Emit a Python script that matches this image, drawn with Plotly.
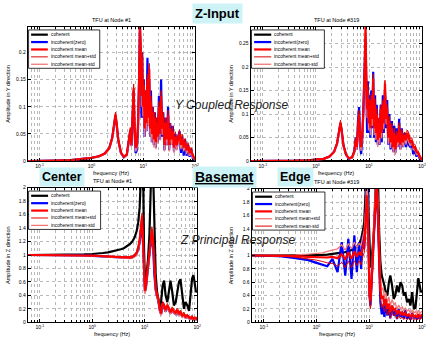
import plotly.graph_objects as go

# ---------------- data ----------------
series_names = ["coherent", "incoherent(zero)", "incoherent mean",
                "incoherent mean+std", "incoherent mean-std"]

# Top row (Y coupled response), frequency in Hz
f_top = [0.06, 0.1, 0.2, 0.4, 0.7, 1.0, 1.4, 1.8, 2.2, 2.5,
         2.75, 2.9, 3.05, 3.3, 3.7, 4.2, 4.8, 5.3, 5.6, 5.9,
         6.2, 6.5, 6.8, 7.1, 7.5, 7.9, 8.3, 8.6, 8.9, 9.2,
         9.5, 9.8, 10.2, 10.6, 11.0, 11.5, 12.0, 12.5, 13.0, 13.5,
         14.0, 14.6, 15.2, 15.9, 16.6, 17.4, 18.2, 19.0, 20.0, 21.0,
         22.0, 23.0, 24.2, 25.5, 27.0, 28.5, 30.0, 31.5, 33.0, 35.0,
         37.0, 39.0, 41.5, 44.0, 47.0, 50.0, 53.0, 56.0, 60.0, 64.0,
         68.0, 73.0, 78.0, 84.0, 90.0, 95.0, 100.0]
f_coh_top = [0.06, 100.0]
tl_coherent = [0.0, 0.0]
tl_zero = [0.000, 0.000, 0.001, 0.002, 0.004, 0.006, 0.009, 0.014, 0.024, 0.042,
           0.068, 0.084, 0.068, 0.037, 0.015, 0.007, 0.012, 0.040, 0.056, 0.028,
           0.085, 0.130, 0.050, 0.015, 0.020, 0.060, 0.160, 0.250, 0.180, 0.080,
           0.200, 0.080, 0.150, 0.045, 0.130, 0.055, 0.190, 0.065, 0.150, 0.045,
           0.130, 0.035, 0.100, 0.030, 0.090, 0.025, 0.080, 0.035, 0.120, 0.040,
           0.150, 0.045, 0.090, 0.020, 0.080, 0.030, 0.100, 0.020, 0.070, 0.030,
           0.065, 0.018, 0.050, 0.022, 0.045, 0.055, 0.015, 0.045, 0.010, 0.040,
           0.010, 0.030, 0.008, 0.022, 0.005, 0.004, 0.002]
tl_mean = [0.000, 0.000, 0.001, 0.002, 0.004, 0.006, 0.009, 0.014, 0.024, 0.042,
           0.070, 0.086, 0.070, 0.038, 0.016, 0.008, 0.012, 0.040, 0.058, 0.030,
           0.080, 0.135, 0.060, 0.025, 0.030, 0.070, 0.150, 0.250, 0.210, 0.120,
           0.190, 0.100, 0.140, 0.060, 0.120, 0.070, 0.150, 0.080, 0.170, 0.060,
           0.110, 0.050, 0.090, 0.040, 0.080, 0.035, 0.070, 0.045, 0.100, 0.050,
           0.120, 0.060, 0.080, 0.030, 0.070, 0.040, 0.085, 0.030, 0.060, 0.040,
           0.055, 0.025, 0.045, 0.030, 0.040, 0.050, 0.030, 0.042, 0.025, 0.035,
           0.020, 0.028, 0.015, 0.020, 0.010, 0.006, 0.003]
tl_plus = [0.000, 0.000, 0.001, 0.002, 0.004, 0.006, 0.010, 0.015, 0.026, 0.045,
           0.074, 0.090, 0.074, 0.041, 0.018, 0.009, 0.014, 0.044, 0.062, 0.034,
           0.088, 0.142, 0.068, 0.032, 0.038, 0.080, 0.165, 0.255, 0.225, 0.140,
           0.200, 0.118, 0.150, 0.075, 0.130, 0.085, 0.160, 0.095, 0.180, 0.075,
           0.120, 0.065, 0.100, 0.055, 0.090, 0.048, 0.080, 0.058, 0.110, 0.062,
           0.130, 0.072, 0.090, 0.042, 0.080, 0.052, 0.094, 0.042, 0.070, 0.050,
           0.064, 0.035, 0.054, 0.040, 0.048, 0.058, 0.038, 0.050, 0.032, 0.042,
           0.027, 0.034, 0.020, 0.025, 0.014, 0.008, 0.004]
tl_minus = [0.000, 0.000, 0.001, 0.002, 0.004, 0.006, 0.008, 0.013, 0.022, 0.039,
            0.066, 0.082, 0.066, 0.035, 0.014, 0.007, 0.010, 0.036, 0.054, 0.026,
            0.072, 0.128, 0.052, 0.018, 0.022, 0.060, 0.135, 0.245, 0.195, 0.100,
            0.180, 0.082, 0.130, 0.045, 0.110, 0.055, 0.140, 0.065, 0.160, 0.045,
            0.100, 0.035, 0.080, 0.025, 0.070, 0.022, 0.060, 0.032, 0.090, 0.038,
            0.110, 0.048, 0.070, 0.018, 0.060, 0.028, 0.076, 0.018, 0.050, 0.030,
            0.046, 0.015, 0.036, 0.020, 0.032, 0.042, 0.022, 0.034, 0.018, 0.028,
            0.013, 0.022, 0.010, 0.015, 0.006, 0.004, 0.002]

tr_coherent = [0.0, 0.0]
tr_zero = [0.000, 0.000, 0.000, 0.001, 0.002, 0.003, 0.005, 0.010, 0.020, 0.037,
           0.064, 0.081, 0.065, 0.033, 0.013, 0.005, 0.008, 0.022, 0.050, 0.025,
           0.085, 0.115, 0.035, 0.015, 0.050, 0.120, 0.220, 0.260, 0.160, 0.060,
           0.170, 0.060, 0.140, 0.050, 0.150, 0.070, 0.190, 0.050, 0.140, 0.040,
           0.120, 0.035, 0.090, 0.035, 0.120, 0.040, 0.140, 0.060, 0.150, 0.070,
           0.130, 0.035, 0.100, 0.025, 0.085, 0.020, 0.075, 0.018, 0.070, 0.030,
           0.090, 0.025, 0.070, 0.030, 0.060, 0.030, 0.055, 0.035, 0.030, 0.040,
           0.015, 0.025, 0.010, 0.015, 0.005, 0.003, 0.002]
tr_mean = [0.000, 0.000, 0.000, 0.001, 0.002, 0.003, 0.005, 0.010, 0.020, 0.038,
           0.065, 0.082, 0.066, 0.034, 0.014, 0.006, 0.008, 0.020, 0.045, 0.030,
           0.075, 0.100, 0.045, 0.030, 0.060, 0.110, 0.200, 0.285, 0.180, 0.110,
           0.150, 0.080, 0.120, 0.070, 0.130, 0.090, 0.175, 0.070, 0.120, 0.060,
           0.100, 0.045, 0.080, 0.050, 0.110, 0.060, 0.120, 0.080, 0.165, 0.090,
           0.110, 0.050, 0.085, 0.040, 0.070, 0.030, 0.060, 0.025, 0.055, 0.040,
           0.075, 0.035, 0.060, 0.040, 0.055, 0.045, 0.060, 0.050, 0.040, 0.045,
           0.030, 0.030, 0.020, 0.018, 0.010, 0.006, 0.003]
tr_plus = [0.000, 0.000, 0.000, 0.001, 0.002, 0.004, 0.006, 0.011, 0.022, 0.041,
           0.070, 0.087, 0.071, 0.038, 0.016, 0.007, 0.010, 0.024, 0.050, 0.036,
           0.082, 0.108, 0.055, 0.038, 0.068, 0.120, 0.215, 0.285, 0.200, 0.128,
           0.162, 0.095, 0.132, 0.085, 0.140, 0.105, 0.185, 0.085, 0.132, 0.075,
           0.112, 0.060, 0.092, 0.064, 0.120, 0.072, 0.130, 0.092, 0.172, 0.102,
           0.120, 0.064, 0.095, 0.052, 0.080, 0.042, 0.070, 0.036, 0.064, 0.050,
           0.082, 0.046, 0.068, 0.050, 0.062, 0.055, 0.066, 0.060, 0.048, 0.050,
           0.036, 0.036, 0.026, 0.022, 0.013, 0.008, 0.004]
tr_minus = [0.000, 0.000, 0.000, 0.001, 0.002, 0.003, 0.004, 0.009, 0.018, 0.035,
            0.060, 0.077, 0.061, 0.030, 0.012, 0.005, 0.006, 0.016, 0.040, 0.024,
            0.068, 0.092, 0.035, 0.022, 0.052, 0.100, 0.185, 0.275, 0.160, 0.092,
            0.138, 0.065, 0.108, 0.055, 0.120, 0.075, 0.165, 0.055, 0.108, 0.045,
            0.088, 0.030, 0.068, 0.036, 0.100, 0.048, 0.110, 0.068, 0.158, 0.078,
            0.100, 0.036, 0.075, 0.028, 0.060, 0.018, 0.050, 0.014, 0.046, 0.030,
            0.068, 0.024, 0.052, 0.030, 0.048, 0.035, 0.054, 0.040, 0.032, 0.040,
            0.024, 0.024, 0.014, 0.014, 0.007, 0.004, 0.002]

# Bottom row (Z principal response)
f_bot = [0.06, 0.1, 0.2, 0.4, 0.7, 1.0, 1.3, 1.6, 2.0, 2.5,
         3.0, 3.5, 4.0, 4.6, 5.2, 5.8, 6.4, 7.0, 7.5, 8.0,
         8.5, 8.9, 9.3, 9.7, 10.1, 10.5, 11.0, 11.6, 12.3, 13.0,
         13.7, 14.5, 15.3, 16.2, 17.2, 18.2, 19.3, 20.5, 22.0, 23.5,
         25.0, 27.0, 29.0, 31.0, 33.5, 36.0, 39.0, 42.0, 45.0, 48.0,
         52.0, 56.0, 60.0, 65.0, 70.0, 75.0, 80.0, 85.0, 90.0, 95.0,
         100.0]
bl_coherent = [1.000, 1.000, 1.001, 1.003, 1.008, 1.015, 1.02, 1.03, 1.04, 1.055,
               1.07, 1.085, 1.10, 1.13, 1.16, 1.20, 1.26, 1.35, 1.48, 1.70,
               2.10, 2.60, 2.40, 1.10, 0.62, 0.60, 0.75, 0.95, 1.30, 1.90,
               2.60, 2.20, 1.20, 0.70, 0.45, 0.30, 0.22, 0.30, 0.55, 0.62,
               0.40, 0.30, 0.45, 0.62, 0.45, 0.25, 0.30, 0.45, 0.60, 0.64,
               0.40, 0.20, 0.30, 0.25, 0.17, 0.40, 0.65, 0.70, 0.55, 0.45,
               0.47]
bl_zero = [1.000, 1.000, 1.000, 0.997, 0.993, 0.987, 0.982, 0.976, 0.97, 0.965,
           0.958, 0.955, 0.953, 0.953, 0.956, 0.965, 0.985, 1.02, 1.08, 1.18,
           1.38, 1.50, 1.15, 0.58, 0.46, 0.50, 0.64, 0.80, 0.98, 1.18,
           1.22, 1.10, 0.70, 0.48, 0.38, 0.32, 0.18, 0.12, 0.25, 0.22,
           0.16, 0.22, 0.18, 0.13, 0.18, 0.14, 0.12, 0.16, 0.10, 0.13,
           0.09, 0.10, 0.07, 0.08, 0.06, 0.05, 0.07, 0.04, 0.05, 0.04,
           0.04]
bl_mean = [1.000, 1.000, 1.000, 0.998, 0.995, 0.99, 0.985, 0.98, 0.975, 0.97,
           0.965, 0.962, 0.96, 0.96, 0.962, 0.97, 0.99, 1.03, 1.10, 1.22,
           1.42, 1.58, 1.20, 0.60, 0.47, 0.52, 0.68, 0.85, 1.05, 1.28,
           1.38, 1.20, 0.75, 0.50, 0.40, 0.35, 0.20, 0.13, 0.28, 0.25,
           0.18, 0.25, 0.20, 0.15, 0.20, 0.16, 0.14, 0.18, 0.12, 0.15,
           0.10, 0.12, 0.08, 0.10, 0.07, 0.06, 0.08, 0.05, 0.06, 0.05,
           0.05]
bl_plus = [1.000, 1.000, 1.001, 1.000, 0.998, 0.994, 0.99, 0.986, 0.982, 0.978,
           0.974, 0.972, 0.972, 0.974, 0.978, 0.988, 1.01, 1.05, 1.13, 1.26,
           1.48, 1.62, 1.28, 0.66, 0.52, 0.57, 0.73, 0.90, 1.10, 1.33,
           1.42, 1.26, 0.80, 0.55, 0.44, 0.39, 0.24, 0.16, 0.31, 0.28,
           0.21, 0.28, 0.23, 0.18, 0.23, 0.19, 0.17, 0.21, 0.15, 0.18,
           0.13, 0.15, 0.10, 0.12, 0.09, 0.08, 0.10, 0.07, 0.08, 0.07,
           0.07]
bl_minus = [1.000, 1.000, 0.999, 0.996, 0.992, 0.986, 0.98, 0.974, 0.968, 0.962,
            0.956, 0.952, 0.948, 0.946, 0.946, 0.952, 0.97, 1.01, 1.07, 1.18,
            1.36, 1.52, 1.12, 0.55, 0.42, 0.47, 0.63, 0.80, 1.00, 1.22,
            1.33, 1.14, 0.70, 0.45, 0.36, 0.31, 0.16, 0.10, 0.25, 0.22,
            0.15, 0.22, 0.17, 0.12, 0.17, 0.13, 0.11, 0.15, 0.09, 0.12,
            0.07, 0.09, 0.06, 0.08, 0.05, 0.04, 0.06, 0.03, 0.04, 0.03,
            0.03]

br_coherent = [1.000, 1.000, 1.000, 1.000, 1.002, 1.005, 1.008, 1.012, 1.02, 1.03,
               1.04, 1.05, 1.06, 1.08, 1.10, 1.13, 1.17, 1.25, 1.35, 1.50,
               1.80, 2.30, 2.60, 1.60, 0.95, 0.82, 0.90, 1.10, 1.40, 1.90,
               2.50, 2.30, 1.40, 0.90, 0.70, 0.60, 0.55, 0.45, 0.40, 0.60,
               0.70, 0.55, 0.35, 0.40, 0.55, 0.45, 0.60, 0.55, 0.40, 0.45,
               0.30, 0.35, 0.25, 0.45, 0.20, 0.22, 0.50, 0.66, 0.55, 0.45,
               0.48]
br_zero = [1.000, 1.000, 0.99, 0.96, 0.93, 0.89, 0.86, 0.84, 0.95, 0.75,
           1.20, 0.70, 1.25, 0.65, 1.30, 0.75, 1.20, 0.80, 1.30, 1.10,
           1.60, 2.20, 1.90, 0.70, 0.40, 0.25, 0.60, 1.00, 1.50, 1.95,
           2.10, 1.60, 0.80, 0.30, 0.12, 0.25, 0.08, 0.30, 0.10, 0.22,
           0.06, 0.25, 0.10, 0.18, 0.05, 0.20, 0.08, 0.15, 0.06, 0.18,
           0.05, 0.12, 0.04, 0.14, 0.06, 0.10, 0.04, 0.12, 0.05, 0.08,
           0.10]
br_mean = [1.000, 1.000, 1.000, 0.99, 0.98, 0.975, 0.97, 0.97, 0.98, 0.96,
           1.02, 0.94, 1.05, 0.95, 1.06, 0.98, 1.05, 1.00, 1.12, 1.20,
           1.50, 1.90, 1.70, 0.80, 0.40, 0.32, 0.55, 0.95, 1.40, 1.90,
           2.10, 1.70, 0.90, 0.50, 0.35, 0.40, 0.25, 0.35, 0.20, 0.28,
           0.15, 0.25, 0.18, 0.20, 0.12, 0.18, 0.12, 0.15, 0.10, 0.14,
           0.10, 0.12, 0.08, 0.12, 0.08, 0.10, 0.07, 0.12, 0.08, 0.10,
           0.12]
br_plus = [1.000, 1.000, 1.005, 1.01, 1.02, 1.03, 1.04, 1.06, 1.08, 1.10,
           1.16, 1.08, 1.18, 1.10, 1.20, 1.12, 1.18, 1.15, 1.28, 1.38,
           1.70, 2.10, 1.90, 1.00, 0.55, 0.45, 0.70, 1.10, 1.55, 2.05,
           2.30, 1.90, 1.05, 0.65, 0.48, 0.52, 0.36, 0.45, 0.30, 0.38,
           0.25, 0.34, 0.27, 0.29, 0.20, 0.26, 0.20, 0.23, 0.17, 0.21,
           0.17, 0.19, 0.14, 0.18, 0.14, 0.16, 0.12, 0.18, 0.13, 0.15,
           0.17]
br_minus = [1.000, 1.000, 0.995, 0.975, 0.95, 0.93, 0.91, 0.89, 0.88, 0.84,
            0.90, 0.82, 0.92, 0.82, 0.92, 0.85, 0.92, 0.86, 0.98, 1.04,
            1.30, 1.70, 1.50, 0.60, 0.28, 0.20, 0.40, 0.80, 1.25, 1.75,
            1.90, 1.50, 0.75, 0.36, 0.22, 0.28, 0.15, 0.24, 0.11, 0.18,
            0.06, 0.16, 0.10, 0.12, 0.05, 0.10, 0.05, 0.08, 0.04, 0.07,
            0.04, 0.06, 0.03, 0.06, 0.03, 0.05, 0.03, 0.06, 0.04, 0.05,
            0.07]

# tick labels
x_tickvals = [0.1, 1, 10, 100]
x_ticktext = ["10<sup>-1</sup>", "10<sup>0</sup>", "10<sup>1</sup>", "10<sup>2</sup>"]
x_minor = [m * 10.0 ** e for e in (-2, -1, 0, 1) for m in range(2, 10)]
y_ticks_tl = [0, 0.05, 0.1, 0.15, 0.2]
y_ticks_tr = [0, 0.05, 0.1, 0.15, 0.2, 0.25]
y_ticks_bot = [0, 0.2, 0.4, 0.6, 0.8, 1.0, 1.2, 1.4, 1.6, 1.8, 2.0]
y_ticktext_bot = ["0", "0.2", "0.4", "0.6", "0.8", "1", "1.2", "1.4", "1.6", "1.8", "2"]

# ---------------- figure ----------------
W, H = 434, 342
FONT = "Liberation Sans, Arial, sans-serif"

def px_x(p):
    return p / W

def px_y(p):
    return 1 - p / H

RED = "#ff0000"
PINK = "#f27878"
panels = [
    dict(f=f_top, fc=f_coh_top, coh=tl_coherent, zero=tl_zero, mean=tl_mean, plus=tl_plus, minus=tl_minus,
         xd=[px_x(28), px_x(197)], yd=[px_y(161), px_y(24)], yr=[0, 0.2476],
         yt=y_ticks_tl, ytt=None, title="TFU at Node #1", ylab="Amplitude in Y direction",
         plus_style=("#e00000", 1.0), minus_style=(PINK, 1.3)),
    dict(f=f_top, fc=f_coh_top, coh=tr_coherent, zero=tr_zero, mean=tr_mean, plus=tr_plus, minus=tr_minus,
         xd=[px_x(253), px_x(426)], yd=[px_y(161), px_y(24)], yr=[0, 0.286],
         yt=y_ticks_tr, ytt=None, title="TFU at Node #319", ylab="Amplitude in Y direction",
         plus_style=("#e00000", 1.0), minus_style=(PINK, 1.3)),
    dict(f=f_bot, fc=f_bot, coh=bl_coherent, zero=bl_zero, mean=bl_mean, plus=bl_plus, minus=bl_minus,
         xd=[px_x(28), px_x(199)], yd=[px_y(325), px_y(188)], yr=[0, 2.0],
         yt=y_ticks_bot, ytt=y_ticktext_bot, title="TFU at Node #1", ylab="Amplitude in Z direction",
         plus_style=("#e00000", 1.0), minus_style=(PINK, 1.3)),
    dict(f=f_bot, fc=f_bot, coh=br_coherent, zero=br_zero, mean=br_mean, plus=br_plus, minus=br_minus,
         xd=[px_x(254), px_x(426)], yd=[px_y(325), px_y(189)], yr=[0, 2.0],
         yt=y_ticks_bot, ytt=y_ticktext_bot, title="TFU at Node #319", ylab="Amplitude in Z direction",
         plus_style=(PINK, 1.3), minus_style=("#e00000", 1.0)),
]

fig = go.Figure()
layout = dict(width=W, height=H, margin=dict(l=0, r=0, t=0, b=0),
              paper_bgcolor="white", plot_bgcolor="white", showlegend=False,
              font=dict(family=FONT, size=5, color="black"))
annotations = []
shapes = []

for i, p in enumerate(panels):
    k = "" if i == 0 else str(i + 1)
    xa, ya = "x" + k, "y" + k
    styles = [("black", 2.2), ("#0000ff", 2.2), (RED, 2.2), p["plus_style"], p["minus_style"]]
    data = [(p["fc"], p["coh"]), (p["f"], p["zero"]), (p["f"], p["mean"]),
            (p["f"], p["plus"]), (p["f"], p["minus"])]
    # draw order: coherent, zero, mean-std, mean+std, mean (thick red on top)
    for j in (0, 1, 4, 3, 2):
        (fx, fy), (col, w), name = data[j], styles[j], series_names[j]
        fig.add_trace(go.Scatter(x=fx, y=fy, mode="lines", name=name,
                                 line=dict(color=col, width=w),
                                 xaxis=xa, yaxis=ya, showlegend=False))
    gridc = "#b8b8b8"
    layout["xaxis" + k] = dict(
        type="log", range=[-1.23, 2.0], domain=p["xd"], anchor=ya,
        tickmode="array", tickvals=x_tickvals, ticktext=x_ticktext,
        ticks="inside", ticklen=3, tickcolor="black", tickfont=dict(size=5),
        showline=True, linecolor="black", linewidth=1, mirror="ticks",
        showgrid=True, gridcolor=gridc, griddash="dot", gridwidth=1,
        minor=dict(tickmode="array", tickvals=x_minor, showgrid=True,
                   gridcolor=gridc, griddash="dot", gridwidth=1,
                   ticks="inside", ticklen=2, tickcolor="black"),
        zeroline=False)
    layout["yaxis" + k] = dict(
        range=p["yr"], domain=p["yd"], anchor=xa,
        tickmode="array", tickvals=p["yt"],
        ticks="inside", ticklen=3, tickcolor="black", tickfont=dict(size=5),
        showline=True, linecolor="black", linewidth=1, mirror="ticks",
        showgrid=True, gridcolor=gridc, griddash="dot", gridwidth=1,
        zeroline=False)
    if p["ytt"] is not None:
        layout["yaxis" + k]["ticktext"] = p["ytt"]

    xc = (p["xd"][0] + p["xd"][1]) / 2
    ytop = p["yd"][1]
    ybot = p["yd"][0]
    annotations.append(dict(text=p["title"], x=xc, y=ytop + 7 / H, xref="paper", yref="paper",
                            showarrow=False, font=dict(size=5.5), xanchor="center", yanchor="middle"))
    annotations.append(dict(text="frequency (Hz)", x=xc, y=ybot - 12 / H, xref="paper", yref="paper",
                            showarrow=False, font=dict(size=5.5), xanchor="center", yanchor="middle"))
    annotations.append(dict(text=p["ylab"], x=p["xd"][0] - 20 / W, y=(p["yd"][0] + p["yd"][1]) / 2,
                            xref="paper", yref="paper", textangle=-90, showarrow=False,
                            font=dict(size=5.5), xanchor="center", yanchor="middle"))

    # legend box (drawn in axis-domain coordinates)
    dx, dy = xa + " domain", ya + " domain"
    shapes.append(dict(type="rect", xref=dx, yref=dy, x0=0.005, x1=0.43, y0=0.69, y1=0.975,
                       fillcolor="white", line=dict(color="black", width=0.8), layer="above"))
    rows = [0.94, 0.885, 0.83, 0.775, 0.72]
    for (col, w), name, ry in zip(styles, series_names, rows):
        shapes.append(dict(type="line", xref=dx, yref=dy, x0=0.02, x1=0.12, y0=ry, y1=ry,
                           line=dict(color=col, width=w), layer="above"))
        annotations.append(dict(text=name, xref=dx, yref=dy, x=0.125, y=ry, showarrow=False,
                                xanchor="left", yanchor="middle", font=dict(size=4.8)))

# overlay labels
box_bg = "#cdf3f7"
annotations += [
    dict(text="<b>Z-Input</b>", x=220 / W, y=px_y(11), xref="paper", yref="paper", showarrow=False,
         font=dict(size=13, family=FONT), bgcolor=box_bg, borderpad=2, xanchor="center", yanchor="middle"),
    dict(text="<b><u>Basemat</u></b>", x=227 / W, y=px_y(177), xref="paper", yref="paper", showarrow=False,
         font=dict(size=14, family=FONT), bgcolor=box_bg, borderpad=2, xanchor="center", yanchor="middle"),
    dict(text="<b>Center</b>", x=63 / W, y=px_y(177), xref="paper", yref="paper", showarrow=False,
         font=dict(size=12.5, family=FONT), bgcolor=box_bg, borderpad=2, xanchor="center", yanchor="middle"),
    dict(text="<b>Edge</b>", x=298 / W, y=px_y(177), xref="paper", yref="paper", showarrow=False,
         font=dict(size=12.5, family=FONT), bgcolor=box_bg, borderpad=2, xanchor="center", yanchor="middle"),
    dict(text="<i>Y Coupled Response</i>", x=175 / W, y=px_y(104), xref="paper", yref="paper",
         showarrow=False, font=dict(size=12, family=FONT, color="#222"), xanchor="left", yanchor="middle"),
    dict(text="<i>Z Principal Response</i>", x=180 / W, y=px_y(241), xref="paper", yref="paper",
         showarrow=False, font=dict(size=12, family=FONT, color="#222"), xanchor="left", yanchor="middle"),
]
layout["annotations"] = annotations
layout["shapes"] = shapes
fig.update_layout(**layout)
fig.write_html("out.html")
